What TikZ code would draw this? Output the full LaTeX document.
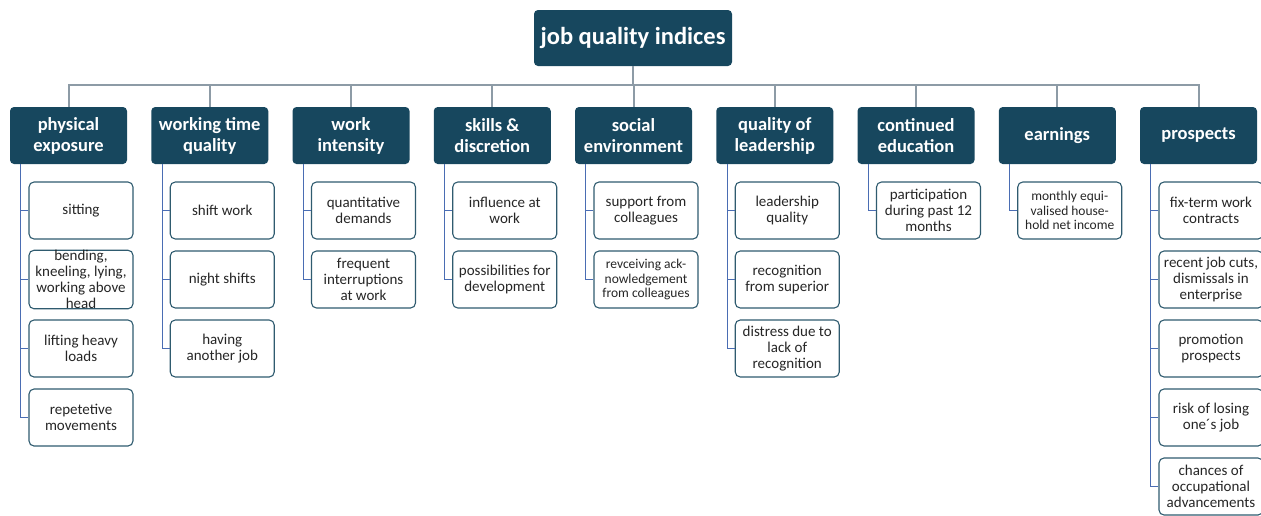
\documentclass[tikz,border=0pt]{standalone}
\usepackage{fontspec}
\setmainfont{Carlito}
\definecolor{headblue}{HTML}{17475E}
\definecolor{boxline}{HTML}{2F5B6F}
\definecolor{stemblue}{HTML}{4A6DB3}
\definecolor{busgray}{HTML}{8D9BA6}
\begin{document}
\begin{tikzpicture}[x=1pt,y=-1pt,
  title/.style={rectangle, rounded corners=4pt, fill=headblue, text=white,
    minimum width=198pt, minimum height=56pt, inner sep=0pt,
    font=\fontsize{24.5}{28}\selectfont\bfseries},
  head/.style={rectangle, rounded corners=4pt, fill=headblue, text=white,
    minimum width=117pt, minimum height=57pt, inner sep=0pt, align=center,
    font=\fontsize{18.5}{21}\selectfont\bfseries},
  item/.style={rectangle, rounded corners=5pt, draw=boxline, line width=1.1pt,
    fill=white, text=black!85, minimum width=104pt, minimum height=57pt,
    inner sep=0pt, align=center, font=\fontsize{15}{16}\selectfont},
  smallitem/.style={item, font=\fontsize{13.5}{14.5}\selectfont},
  bus/.style={draw=busgray, line width=2pt},
  stem/.style={draw=stemblue, line width=1.1pt}]
\useasboundingbox (0,0) rectangle (1261,515);
% top of the tree
\node[title] (top) at (633,38) {job quality indices};
\node[head] (h1) at (68.5,135.5) {physical\\exposure};
\node[head] (h2) at (209.75,135.5) {working time\\quality};
\node[head] (h3) at (351,135.5) {work\\intensity};
\node[head] (h4) at (492.25,135.5) {skills \&\\discretion};
\node[head] (h5) at (633.5,135.5) {social\\environment};
\node[head] (h6) at (774.75,135.5) {quality of\\leadership};
\node[head] (h7) at (916,135.5) {continued\\education};
\node[head] (h8) at (1057.25,135.5) {earnings};
\node[head] (h9) at (1198.5,135.5) {prospects};
\coordinate (busmid) at (633,85);
\draw[bus] (top.south) -- (busmid);
\draw[bus] (h1.north) |- (busmid) -| (h9.north);
\draw[bus] (h2.north) -- (h2.north |- busmid);
\draw[bus] (h3.north) -- (h3.north |- busmid);
\draw[bus] (h4.north) -- (h4.north |- busmid);
\draw[bus] (h5.north) -- (h5.north |- busmid);
\draw[bus] (h6.north) -- (h6.north |- busmid);
\draw[bus] (h7.north) -- (h7.north |- busmid);
\draw[bus] (h8.north) -- (h8.north |- busmid);
% physical exposure
\node[item] (c11) at (81,210.5) {sitting};
\node[item] (c12) at (81,279.5) {bending,\\kneeling, lying,\\working above\\head};
\node[item] (c13) at (81,348.5) {lifting heavy\\loads};
\node[item] (c14) at (81,417.5) {repetetive\\movements};
% working time quality
\node[item] (c21) at (222.25,210.5) {shift work};
\node[item] (c22) at (222.25,279.5) {night shifts};
\node[item] (c23) at (222.25,348.5) {having\\another job};
% work intensity
\node[item] (c31) at (363.5,210.5) {quantitative\\demands};
\node[item] (c32) at (363.5,279.5) {frequent\\interruptions\\at work};
% skills & discretion
\node[item] (c41) at (504.75,210.5) {influence at\\work};
\node[item] (c42) at (504.75,279.5) {possibilities for\\development};
% social environment
\node[item] (c51) at (646,210.5) {support from\\colleagues};
\node[smallitem] (c52) at (646,279.5) {revceiving ack-\\nowledgement\\from colleagues};
% quality of leadership
\node[item] (c61) at (787.25,210.5) {leadership\\quality};
\node[item] (c62) at (787.25,279.5) {recognition\\from superior};
\node[item] (c63) at (787.25,348.5) {distress due to\\lack of\\recognition};
% continued education
\node[item] (c71) at (928.5,210.5) {participation\\during past 12\\months};
% earnings
\node[smallitem] (c81) at (1069.75,210.5) {monthly equi-\\valised house-\\hold net income};
% prospects
\node[item] (c91) at (1211,210.5) {fix-term work\\contracts};
\node[item] (c92) at (1211,279.5) {recent job cuts,\\dismissals in\\enterprise};
\node[item] (c93) at (1211,348.5) {promotion\\prospects};
\node[item] (c94) at (1211,417.5) {risk of losing\\one´s job};
\node[item] (c95) at (1211,486.5) {chances of\\occupational\\advancements};
% stems from the heads
\draw[stem] ([xshift=11pt]h1.south west) |- (c14.west);
\draw[stem] ([xshift=11pt]h1.south west) |- (c11.west);
\draw[stem] ([xshift=11pt]h1.south west) |- (c12.west);
\draw[stem] ([xshift=11pt]h1.south west) |- (c13.west);
\draw[stem] ([xshift=11pt]h2.south west) |- (c21.west);
\draw[stem] ([xshift=11pt]h2.south west) |- (c22.west);
\draw[stem] ([xshift=11pt]h2.south west) |- (c23.west);
\draw[stem] ([xshift=11pt]h3.south west) |- (c31.west);
\draw[stem] ([xshift=11pt]h3.south west) |- (c32.west);
\draw[stem] ([xshift=11pt]h4.south west) |- (c41.west);
\draw[stem] ([xshift=11pt]h4.south west) |- (c42.west);
\draw[stem] ([xshift=11pt]h5.south west) |- (c51.west);
\draw[stem] ([xshift=11pt]h5.south west) |- (c52.west);
\draw[stem] ([xshift=11pt]h6.south west) |- (c61.west);
\draw[stem] ([xshift=11pt]h6.south west) |- (c62.west);
\draw[stem] ([xshift=11pt]h6.south west) |- (c63.west);
\draw[stem] ([xshift=11pt]h7.south west) |- (c71.west);
\draw[stem] ([xshift=11pt]h8.south west) |- (c81.west);
\draw[stem] ([xshift=11pt]h9.south west) |- (c91.west);
\draw[stem] ([xshift=11pt]h9.south west) |- (c92.west);
\draw[stem] ([xshift=11pt]h9.south west) |- (c93.west);
\draw[stem] ([xshift=11pt]h9.south west) |- (c94.west);
\draw[stem] ([xshift=11pt]h9.south west) |- (c95.west);
\end{tikzpicture}
\end{document}
